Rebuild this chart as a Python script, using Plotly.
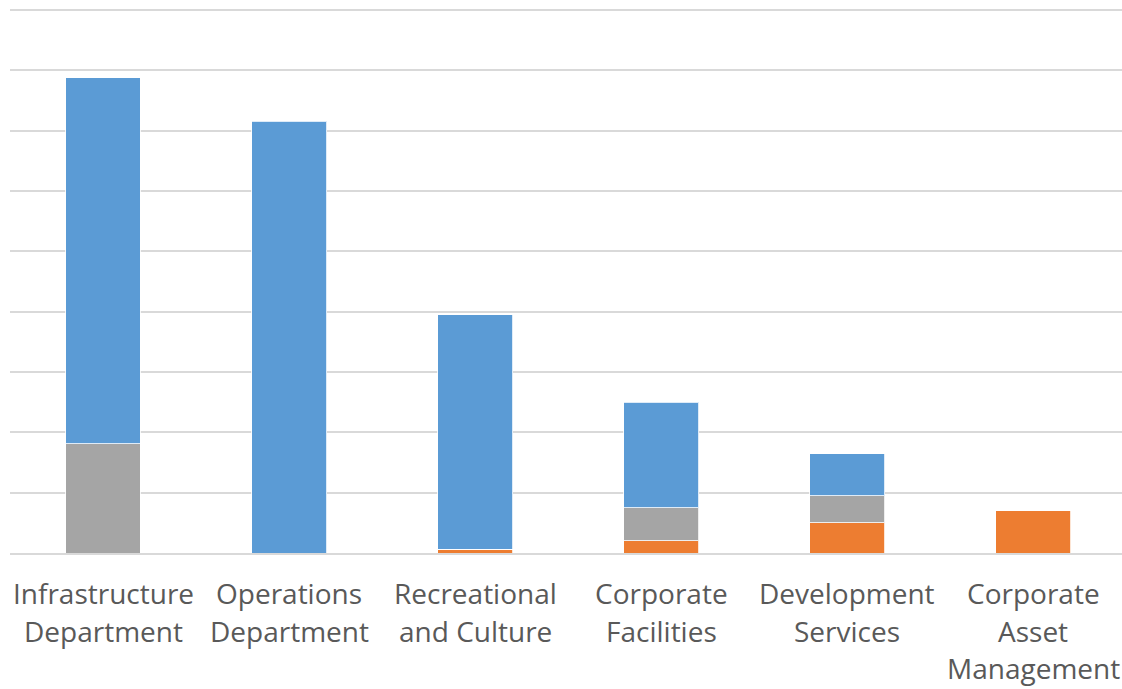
import plotly.graph_objects as go

categories = ["Infrastructure<br>Department", "Operations<br>Department", "Recreational<br>and Culture",
              "Corporate<br>Facilities", "Development<br>Services", "Corporate<br>Asset<br>Management"]
orange_vals = [0.0, 0.0, 0.06, 0.20, 0.50, 0.70]
gray_vals = [1.81, 0.0, 0.0, 0.55, 0.445, 0.0]
blue_vals = [6.07, 7.16, 3.89, 1.75, 0.70, 0.0]

fig = go.Figure()
for name, vals, col in [("Orange", orange_vals, "#ED7D31"),
                        ("Gray", gray_vals, "#A5A5A5"),
                        ("Blue", blue_vals, "#5B9BD5")]:
    fig.add_trace(go.Bar(x=categories, y=vals, name=name, marker_color=col,
                         marker_line_color="rgba(255,255,255,0.8)", marker_line_width=1))

# category labels, one annotation per text line
for cat in categories:
    for i, line in enumerate(cat.split("<br>")):
        fig.add_annotation(x=cat, y=0, xref="x", yref="paper", text=line, showarrow=False,
                           xanchor="center", yanchor="middle", yshift=-(40 + 37.5 * i),
                           font=dict(family="Open Sans", size=28, color="#595959"))

fig.update_layout(
    barmode="stack", bargap=0.597,
    width=1122, height=689,
    margin=dict(l=10, r=0, t=8, b=136, autoexpand=False),
    plot_bgcolor="white", paper_bgcolor="white",
    showlegend=False,
    font=dict(family="Open Sans", size=28, color="#595959"),
)
fig.update_yaxes(range=[0, 9.033], dtick=1, showticklabels=False, gridcolor="#D9D9D9",
                 gridwidth=2, zeroline=False, showline=False, automargin=False)
fig.update_xaxes(range=[-0.5, 5.478], showline=True, linecolor="#D9D9D9", linewidth=2, ticks="",
                 showticklabels=False, automargin=False)
fig.write_html("out.html", config={"displayModeBar": False},
               post_script="document.body.style.margin='0';document.body.style.overflow='hidden';")
